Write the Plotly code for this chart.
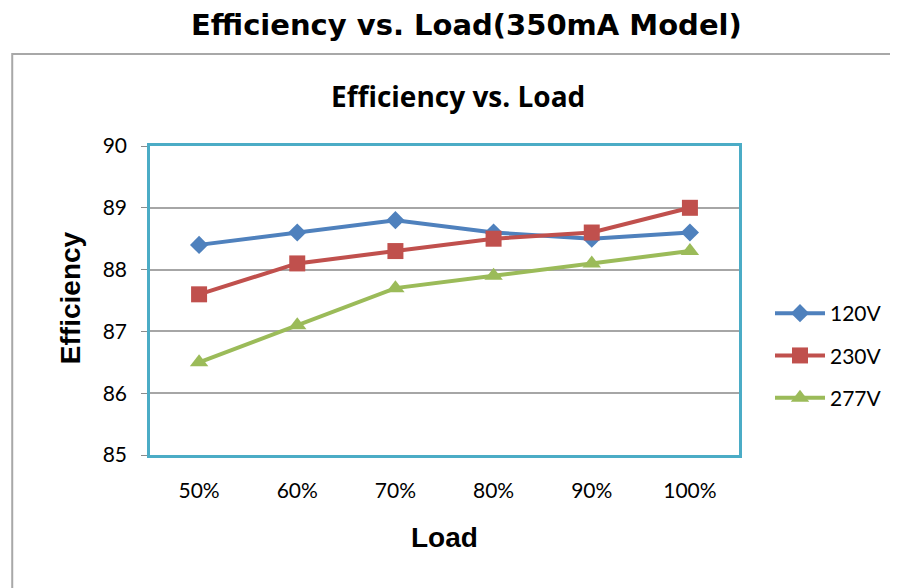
import plotly.graph_objects as go

loads = ["50%", "60%", "70%", "80%", "90%", "100%"]
v120 = [88.4, 88.6, 88.8, 88.6, 88.5, 88.6]
v230 = [87.6, 88.1, 88.3, 88.5, 88.6, 89.0]
v277 = [86.5, 87.1, 87.7, 87.9, 88.1, 88.3]
y_ticks = [85, 86, 87, 88, 89, 90]

# page has an 8px body margin
OFF = 8
W, H = 890, 580
PL, PR, PT, PB = 150, 740, 146, 455  # plot area in screen px
L = PL - OFF
R = W - (PR - OFF)
T = PT - OFF
B = H - (PB - OFF)
PW, PH = PR - PL, PB - PT


def px(xs):
    return (xs - PL) / PW


def py(ys):
    return (PB - ys) / PH


fig = go.Figure()
series = [("120V", v120, "#4F81BD", "diamond", 14),
          ("230V", v230, "#C0504D", "square", 16),
          ("277V", v277, "#9BBB59", "triangle-up", 16)]
for name, vals, col, sym, sz in series:
    fig.add_trace(go.Scatter(x=loads, y=vals, name=name, mode="lines+markers",
                             legendgroup=name,
                             line=dict(color=col, width=4),
                             marker=dict(symbol=sym, size=sz, color=col)))

fig.update_layout(
    width=W, height=H,
    margin=dict(l=L, r=R, t=T, b=B),
    paper_bgcolor="white", plot_bgcolor="white",
    showlegend=True,
    legend=dict(x=px(770), y=py(293), xanchor="left", yanchor="top",
                font=dict(family="Lato", size=21, color="#000000"),
                tracegroupgap=12, itemwidth=50, bgcolor="rgba(0,0,0,0)"),
    xaxis=dict(range=[-0.5, 5.5], showline=True, linecolor="#4BACC6", linewidth=2.5, mirror=True,
               showgrid=False, ticks="", ticklabelstandoff=15,
               tickfont=dict(family="Lato", size=21, color="#000000")),
    yaxis=dict(range=[85, 90], tickvals=y_ticks, showline=True, linecolor="#4BACC6",
               linewidth=2.5, mirror=True, showgrid=True, gridcolor="#A6A6A6", gridwidth=1.5,
               ticks="outside", ticklen=6, tickcolor="#8C8C8C", ticklabelstandoff=10,
               tickfont=dict(family="Lato", size=21, color="#000000"), zeroline=False),
    shapes=[dict(type="rect", xref="paper", yref="paper",
                 x0=px(12), x1=px(920), y0=py(620), y1=py(54),
                 line=dict(color="#A8A8A8", width=2), fillcolor="rgba(0,0,0,0)", layer="below")],
    annotations=[
        dict(text="<b>Efficiency vs. Load(350mA Model)</b>", xref="paper", yref="paper",
             x=px(467), y=py(25), showarrow=False, xanchor="center", yanchor="middle",
             font=dict(family="DejaVu Sans", size=29, color="#000000")),
        dict(text="<b>Efficiency vs. Load</b>", xref="paper", yref="paper",
             x=px(459), y=py(96), showarrow=False, xanchor="center", yanchor="middle",
             font=dict(family="Open Sans", size=28, color="#000000")),
        dict(text="<b>Efficiency</b>", xref="paper", yref="paper", textangle=-90,
             x=px(70), y=py(298), showarrow=False, xanchor="center", yanchor="middle",
             font=dict(family="Liberation Sans", size=28, color="#000000")),
        dict(text="<b>Load</b>", xref="paper", yref="paper",
             x=px(445), y=py(537), showarrow=False, xanchor="center", yanchor="middle",
             font=dict(family="Liberation Sans", size=28, color="#000000")),
    ],
)

fig.write_html("out.html")
